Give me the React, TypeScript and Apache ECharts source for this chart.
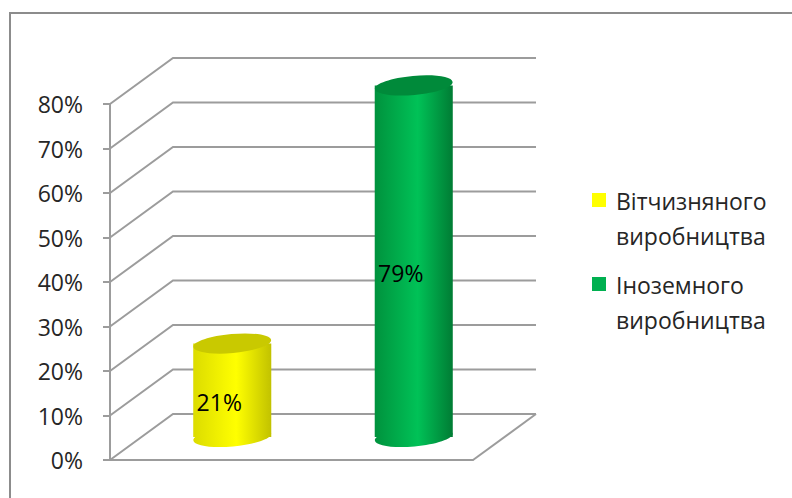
import { useEffect, useRef } from 'react';
import * as echarts from 'echarts';

const categories = ['Вітчизняного\nвиробництва', 'Іноземного\nвиробництва'];
const values = [21, 79];
const yTicks = [0, 10, 20, 30, 40, 50, 60, 70, 80];

const FONT = '"Open Sans", sans-serif';
const DX = 63;
const DY = 46;
const GRID_COLOR = '#9c9c9c';
const TILT = 0.09;
const palettes = [
  { left: '#dcdc00', mid: '#ffff00', right: '#c2c200', top: '#c9c900', legend: '#ffff00' },
  { left: '#00923d', mid: '#00c257', right: '#007c34', top: '#008a3a', legend: '#00b050' },
];

export default function App() {
  const ref = useRef<HTMLDivElement>(null);
  useEffect(() => {
    const chart = echarts.init(ref.current!, null, { renderer: 'svg' });

    const gridRender = (params: any, api: any) => {
      const v = api.value(1);
      const cs = params.coordSys;
      const y = api.coord([0, v])[1];
      const x0 = cs.x;
      const x1 = cs.x + cs.width;
      const style = { stroke: GRID_COLOR, lineWidth: 2, fill: 'none' };
      const children: any[] = [
        {
          type: 'polyline',
          shape: { points: [[x0, y], [x0 + DX, y - DY], [x1 + DX, y - DY]] },
          style,
        },
      ];
      if (v === 0) {
        children.push({
          type: 'line',
          shape: { x1: x1, y1: y, x2: x1 + DX, y2: y - DY },
          style,
        });
      }
      return { type: 'group', children };
    };

    const cylRender = (params: any, api: any) => {
      const i = api.value(0);
      const v = api.value(1);
      const top = api.coord([i, v]);
      const base = api.coord([i, 0]);
      const mid = api.coord([i, v / 2]);
      const bw = api.size([1, 0])[0];
      const rx = bw * 0.215;
      const ry = 9.5;
      const cx = top[0] + DX / 2;
      const ty = top[1] - DY / 2;
      const by = base[1] - DY / 2;
      const p = palettes[i];
      const grad = new echarts.graphic.LinearGradient(0, 0, 1, 0, [
        { offset: 0, color: p.left },
        { offset: 0.55, color: p.mid },
        { offset: 1, color: p.right },
      ]);
      return {
        type: 'group',
        children: [
          { type: 'ellipse', shape: { cx: 0, cy: 0, rx, ry }, x: cx, y: by, rotation: TILT, style: { fill: grad } },
          { type: 'rect', shape: { x: cx - rx, y: ty, width: 2 * rx, height: by - ty }, style: { fill: grad } },
          { type: 'ellipse', shape: { cx: 0, cy: 0, rx, ry }, x: cx, y: ty, rotation: TILT, style: { fill: p.top } },
          {
            type: 'text',
            x: cx - 13,
            y: mid[1] - DY / 4,
            style: {
              text: v + '%',
              fontSize: 23,
              fontFamily: FONT,
              fill: '#000',
              align: 'center',
              verticalAlign: 'middle',
            },
          },
        ],
      };
    };

    const legendGraphics: any[] = [];
    categories.forEach((name, i) => {
      legendGraphics.push({
        type: 'rect',
        shape: { x: 592, y: 193 + 84 * i, width: 14, height: 14 },
        style: { fill: palettes[i].legend },
        silent: true,
      });
      legendGraphics.push({
        type: 'text',
        x: 616,
        y: 183 + 84 * i,
        style: {
          text: name,
          fontSize: 23,
          fontFamily: FONT,
          lineHeight: 35,
          fill: '#262626',
          verticalAlign: 'top',
        },
        silent: true,
      });
    });

    const option: any = {
      animation: false,
      backgroundColor: '#ffffff',
      grid: { left: 110, right: 319, top: 104, bottom: 38, containLabel: false },
      xAxis: {
        type: 'category',
        data: categories,
        axisLine: { show: true, lineStyle: { color: GRID_COLOR, width: 2 } },
        axisTick: { show: false },
        axisLabel: { show: false },
        splitLine: { show: false },
      },
      yAxis: {
        type: 'value',
        min: 0,
        max: 80,
        interval: 10,
        axisLine: { show: true, lineStyle: { color: GRID_COLOR, width: 2 } },
        axisTick: { show: true, length: 7, lineStyle: { color: GRID_COLOR, width: 2 } },
        axisLabel: {
          formatter: '{value}%',
          fontSize: 23,
          fontFamily: FONT,
          color: '#262626',
          margin: 27,
        },
        splitLine: { show: false },
      },
      series: [
        {
          type: 'custom',
          data: yTicks.map((v) => [0, v]),
          renderItem: gridRender,
          silent: true,
          clip: false,
          z: 1,
        },
        {
          type: 'custom',
          data: values.map((v, i) => [i, v]),
          renderItem: cylRender,
          clip: false,
          z: 3,
        },
      ],
      graphic: [
        {
          type: 'rect',
          shape: { x: 10, y: 13, width: 800, height: 500 },
          style: { fill: 'none', stroke: '#8c8c8c', lineWidth: 2 },
          silent: true,
        },
        ...legendGraphics,
      ],
    };
    chart.setOption(option);
    return () => chart.dispose();
  }, []);

  return (
    <div
      ref={ref}
      style={{ position: 'fixed', left: 0, top: 0, width: 792, height: 498 }}
    />
  );
}
